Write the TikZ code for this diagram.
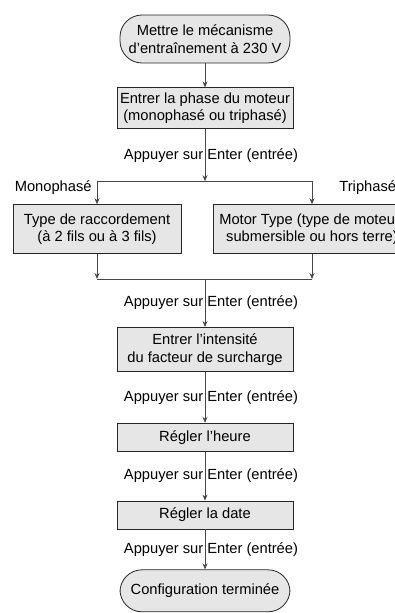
\documentclass[tikz,border=0pt]{standalone}
\usepackage{fontspec}
\setmainfont{Liberation Sans}
\usetikzlibrary{arrows.meta, positioning}
\definecolor{boxgray}{RGB}{230, 230, 230}
\definecolor{linegray}{RGB}{70, 70, 70}

\begin{document}
\begin{tikzpicture}[
        > = {Stealth[length=6pt, width=5pt]}, % arrow head style
        node distance = 24pt,
        line width = 0.8pt, % line style
        font = \fontsize{14.7}{17.5}\selectfont
    ]
        \tikzstyle{etape}=[
            draw = black!85,
            fill = boxgray,
            inner sep = 0pt,
            minimum width = 176pt,
            align = center,
        ]
        \tikzstyle{terminal}=[etape, rounded corners = 22pt, minimum width = 170pt]
        \tikzstyle{lien}=[draw = linegray]
        \tikzstyle{appui}=[inner sep = 0pt, xshift = 6pt]

        \clip (0,0) rectangle (395pt,-613pt);

        \node[terminal, minimum height = 48pt] (debut) at (205pt,-39pt) {Mettre le mécanisme\\d’entraînement à 230 V};
        \node[etape, minimum height = 41pt] (phase) [below=24pt of debut] {Entrer la phase du moteur\\(monophasé ou triphasé)};

        % choix mono / tri
        \coordinate[below=52pt of phase] (choix);
        \coordinate (choixG) at ([xshift=-108pt] choix);
        \coordinate (choixD) at ([xshift=107pt] choix);
        \node[etape, minimum width = 168pt, minimum height = 49pt] (mono) [below=23pt of choixG] {Type de raccordement\\(à 2 fils ou à 3 fils)};
        \node[etape, minimum width = 198pt, minimum height = 49pt] (tri) [below=23pt of choixD] {Motor Type (type de moteur)\\submersible ou hors terre)};
        \coordinate[below=25pt of mono] (jonctionG);
        \coordinate[below=25pt of tri] (jonctionD);
        \coordinate (jonction) at (choix |- jonctionG);

        \node[anchor=north east, inner sep=0pt] (monoTxt) at ([xshift=-5pt, yshift=1pt] choixG) {Monophasé};
        \node[anchor=north west, inner sep=0pt] (triTxt) at ([xshift=27pt, yshift=1pt] choixD) {Triphasé};

        \node[etape, minimum height = 44pt] (intensite) [below=48pt of jonction] {Entrer l’intensité\\du facteur de surcharge};
        \node[etape, minimum height = 28pt] (heure) [below=51pt of intensite] {Régler l’heure};
        \node[etape, minimum height = 28pt] (date) [below=49pt of heure] {Régler la date};
        \node[terminal, minimum height = 42pt] (fin) [below=40pt of date] {Configuration terminée};

        \path (debut) edge[lien, ->] (phase);
        \path (phase) edge[lien, ->] node[appui] {Appuyer sur Enter (entrée)} (choix);
        \draw[lien] (choixG) -- (choixD);
        \draw[lien, ->] (choixG) -- (mono);
        \draw[lien, ->] (choixD) -- (tri);
        \draw[lien, ->] (mono) -- (jonctionG);
        \draw[lien, ->] (tri) -- (jonctionD);
        \draw[lien] (jonctionG) -- (jonctionD);
        \path (jonction) edge[lien, ->] node[appui] {Appuyer sur Enter (entrée)} (intensite);
        \path (intensite) edge[lien, ->] node[appui] {Appuyer sur Enter (entrée)} (heure);
        \path (heure) edge[lien, ->] node[appui] {Appuyer sur Enter (entrée)} (date);
        \path (date) edge[lien, ->] node[appui] {Appuyer sur Enter (entrée)} (fin);
    \end{tikzpicture}
\end{document}
